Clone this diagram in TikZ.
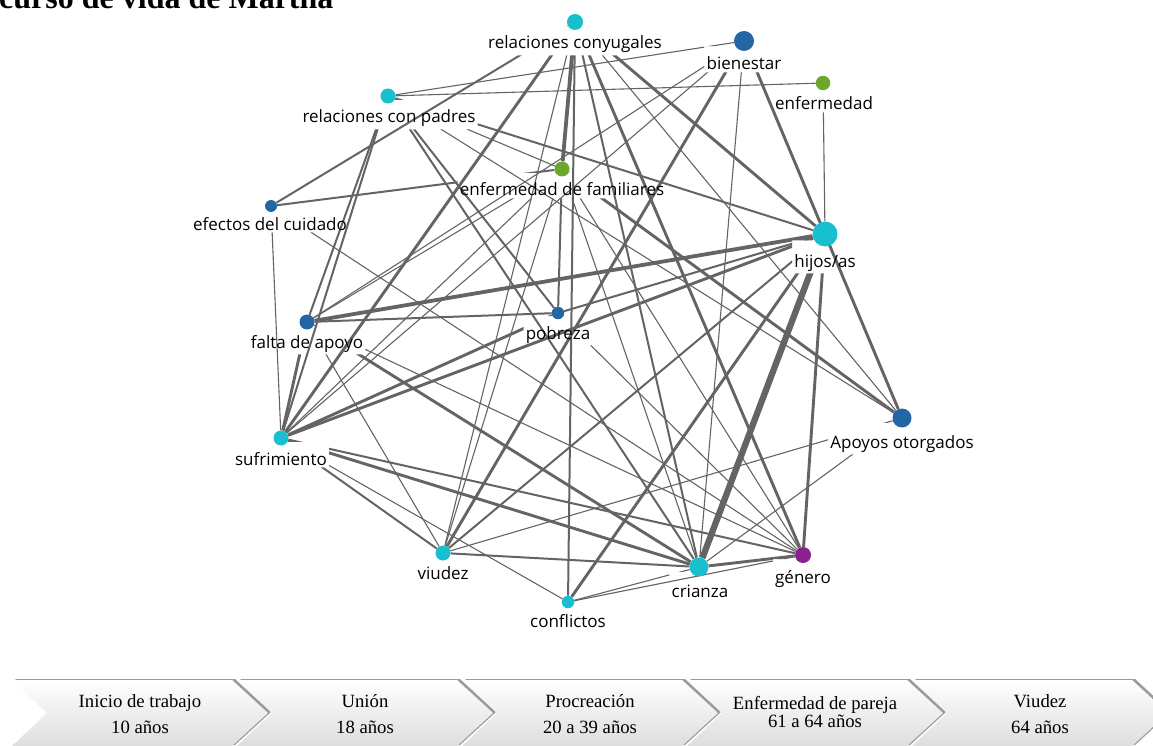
\documentclass[tikz,border=0pt]{standalone}
\usepackage{fontspec}
\setmainfont{Liberation Serif}
\newfontfamily\lblfont{Open Sans}
\usetikzlibrary{shadows}
\pgfdeclarelayer{bg}
\pgfsetlayers{bg,main}
\definecolor{cy}{HTML}{17BFCF}
\definecolor{bl}{HTML}{2465A6}
\definecolor{gr}{HTML}{6CA62B}
\definecolor{pu}{HTML}{8E1F8F}
\definecolor{eg}{HTML}{646464}
\tikzset{
  dot/.style 2 args={circle, inner sep=0pt, minimum size=#2, fill=#1, draw=none},
  lab/.style={font=\lblfont\fontsize{17}{19}\selectfont, inner sep=2pt, anchor=base, text=black},
  edge/.style={draw=eg, line cap=butt},
  w1/.style={line width=1.1pt},
  w2/.style={line width=2pt},
  w3/.style={line width=2.9pt},
  w4/.style={line width=3.8pt},
  w5/.style={line width=6.3pt},
  chev/.style={top color=white, bottom color=black!13, draw=none,
    drop shadow={shadow xshift=3pt, shadow yshift=1pt, opacity=0.6, fill=black!65}},
  chtext/.style={font=\fontsize{18.7}{20}\selectfont, anchor=base, inner sep=0pt},
}
\newcommand\edg[3]{%
  \begin{scope}[even odd rule]
    \clip (-50,-50) rectangle (1200,800)
      (#1l.west |- #1.-30) rectangle (#1l.south east)
      (#2l.west |- #2.-30) rectangle (#2l.south east);
    \draw[edge,#3] (#1) -- (#2);
  \end{scope}}
\begin{document}
\begin{tikzpicture}[x=1pt,y=-1pt]
\useasboundingbox (0,0) rectangle (1153,746);
% title
\node[anchor=base west, inner sep=0pt, font=\bfseries\fontsize{32}{34}\selectfont] (title) at (-1,9) {curso de vida de Martha};
% dots
\node[dot={cy}{16}] (RC) at (575,22) {};
\node[dot={bl}{20}] (BI) at (744,41) {};
\node[dot={gr}{14.5}] (EN) at (823,83) {};
\node[dot={cy}{15}] (RP) at (388,96) {};
\node[dot={gr}{15}] (EF) at (562,169) {};
\node[dot={bl}{12}] (EC) at (271,206) {};
\node[dot={cy}{25}] (HI) at (825,234) {};
\node[dot={bl}{12.5}] (PO) at (558,313) {};
\node[dot={bl}{15}] (FA) at (307,322) {};
\node[dot={bl}{19}] (AO) at (902,418) {};
\node[dot={cy}{15}] (SU) at (281,438) {};
\node[dot={cy}{15}] (VI) at (443,553) {};
\node[dot={cy}{19}] (CR) at (699,567) {};
\node[dot={pu}{16}] (GE) at (803,555) {};
\node[dot={cy}{12.5}] (CO) at (568,602) {};
% labels
\node[lab] (RCl) at (575,49) {relaciones conyugales};
\node[lab] (BIl) at (744,70) {bienestar};
\node[lab] (ENl) at (824,110) {enfermedad};
\node[lab] (RPl) at (389,123) {relaciones con padres};
\node[lab] (EFl) at (562,196) {enfermedad de familiares};
\node[lab] (ECl) at (270,230) {efectos del cuidado};
\node[lab] (HIl) at (825,267) {hijos/as};
\node[lab] (POl) at (558,339) {pobreza};
\node[lab] (FAl) at (307,348) {falta de apoyo};
\node[lab] (AOl) at (902,448) {Apoyos otorgados};
\node[lab] (SUl) at (281,465) {sufrimiento};
\node[lab] (VIl) at (443,579) {viudez};
\node[lab] (CRl) at (700,597) {crianza};
\node[lab] (GEl) at (803,583) {género};
\node[lab] (COl) at (568,627) {conflictos};
% edges
\begin{pgfonlayer}{bg}
\edg{RC}{EC}{w2}\edg{RC}{SU}{w3}\edg{RC}{VI}{w1}\edg{RC}{EF}{w4}
\edg{RC}{CO}{w2}\edg{RC}{CR}{w2}\edg{RC}{GE}{w3}\edg{RC}{HI}{w3}\edg{RC}{AO}{w1}
\edg{BI}{RP}{w1}\edg{BI}{FA}{w1}\edg{BI}{SU}{w1}\edg{BI}{VI}{w3}\edg{BI}{CR}{w1}\edg{BI}{AO}{w3}
\edg{EN}{RP}{w1}\edg{EN}{HI}{w1}
\edg{RP}{FA}{w2}\edg{RP}{SU}{w2}\edg{RP}{HI}{w2}\edg{RP}{EF}{w1}\edg{RP}{PO}{w2}\edg{RP}{CR}{w2}\edg{RP}{AO}{w1}
\edg{EF}{EC}{w2}\edg{EF}{AO}{w3}\edg{EF}{FA}{w1}\edg{EF}{SU}{w1}\edg{EF}{VI}{w1}
\edg{EF}{CR}{w1}\edg{EF}{GE}{w1}\edg{EF}{PO}{w2}
\edg{EC}{SU}{w1}\edg{EC}{GE}{w1}
\edg{HI}{FA}{w4}\edg{HI}{PO}{w2}\edg{HI}{SU}{w3}\edg{HI}{CR}{w5}\edg{HI}{GE}{w3}\edg{HI}{CO}{w3}\edg{HI}{VI}{w2}
\edg{FA}{PO}{w2}\edg{FA}{SU}{w3}\edg{FA}{CR}{w3}\edg{FA}{GE}{w1}\edg{FA}{VI}{w1}
\edg{SU}{PO}{w3}\edg{SU}{GE}{w2}\edg{SU}{CR}{w3}\edg{SU}{CO}{w1}\edg{SU}{VI}{w2}
\edg{AO}{VI}{w1}\edg{AO}{CR}{w1}
\edg{CR}{GE}{w3}\edg{CR}{CO}{w1}\edg{CR}{VI}{w2}
\edg{CO}{GE}{w1}\edg{PO}{GE}{w1}
\end{pgfonlayer}
% chevrons
\foreach \c/\ta/\tb/\ya/\yb [count=\i] in {140/Inicio de trabajo/10 años/707/733,
  365/Unión/18 años/707/733, 590/Procreación/20 a 39 años/707/733,
  815/Enfermedad de pareja/61 a 64 años/709/727, 1040/Viudez/64 años/707/733}{
  \path[chev] (\c-128,680) -- (\c+92,680) -- (\c+128,713) -- (\c+92,746)
     -- (\c-128,746) -- (\c-93,713) -- cycle;
  \node[chtext] (ca\i) at (\c,\ya) {\ta};
  \node[chtext] (cb\i) at (\c,\yb) {\tb};
}
\end{tikzpicture}
\end{document}
